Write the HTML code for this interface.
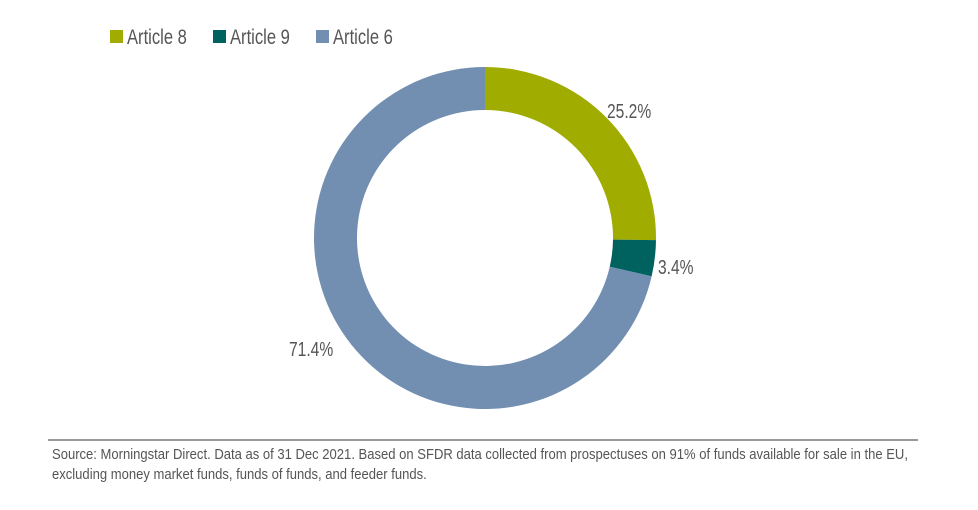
<!DOCTYPE html>
<html><head><style>
body{margin:0;background:#fff;}
svg text{font-family:"Liberation Sans",sans-serif;fill:#555;}
</style></head><body>
<svg width="978" height="505" viewBox="0 0 978 505" xmlns="http://www.w3.org/2000/svg">
<rect width="978" height="505" fill="#fff"/>
<g font-size="21">
<rect x="110" y="30" width="13" height="13" fill="#a0ad00"/>
<text x="127" y="44" transform="translate(127 0) scale(0.79 1) translate(-127 0)">Article 8</text>
<rect x="213" y="30" width="13" height="13" fill="#00625f"/>
<text x="230" y="44" transform="translate(230 0) scale(0.79 1) translate(-230 0)">Article 9</text>
<rect x="316" y="30" width="13" height="13" fill="#728fb1"/>
<text x="333" y="44" transform="translate(333 0) scale(0.79 1) translate(-333 0)">Article 6</text>
</g>
<path d="M485 67 A171 171 0 0 1 655.99 240.15 L613 239.6 A128 128 0 0 0 485 110 Z" fill="#a0ad00"/>
<path d="M655.99 240.15 A171 171 0 0 1 651.64 276.35 L609.74 266.71 A128 128 0 0 0 613 239.6 Z" fill="#00625f"/>
<path d="M651.64 276.35 A171 171 0 1 1 485 67 L485 110 A128 128 0 1 0 609.74 266.71 Z" fill="#728fb1"/>
<g font-size="20">
<text x="607" y="118" transform="translate(607 0) scale(0.78 1) translate(-607 0)">25.2%</text>
<text x="658" y="274" transform="translate(658 0) scale(0.78 1) translate(-658 0)">3.4%</text>
<text x="289" y="356" transform="translate(289 0) scale(0.78 1) translate(-289 0)">71.4%</text>
</g>
<line x1="48" y1="440" x2="918" y2="440" stroke="#333" stroke-width="1"/>
<g font-size="15">
<text x="52" y="459" transform="translate(52 0) scale(0.87 1) translate(-52 0)">Source: Morningstar Direct. Data as of 31 Dec 2021. Based on SFDR data collected from prospectuses on 91% of funds available for sale in the EU,</text>
<text x="52" y="479" transform="translate(52 0) scale(0.87 1) translate(-52 0)">excluding money market funds, funds of funds, and feeder funds.</text>
</g>
</svg>
</body></html>
